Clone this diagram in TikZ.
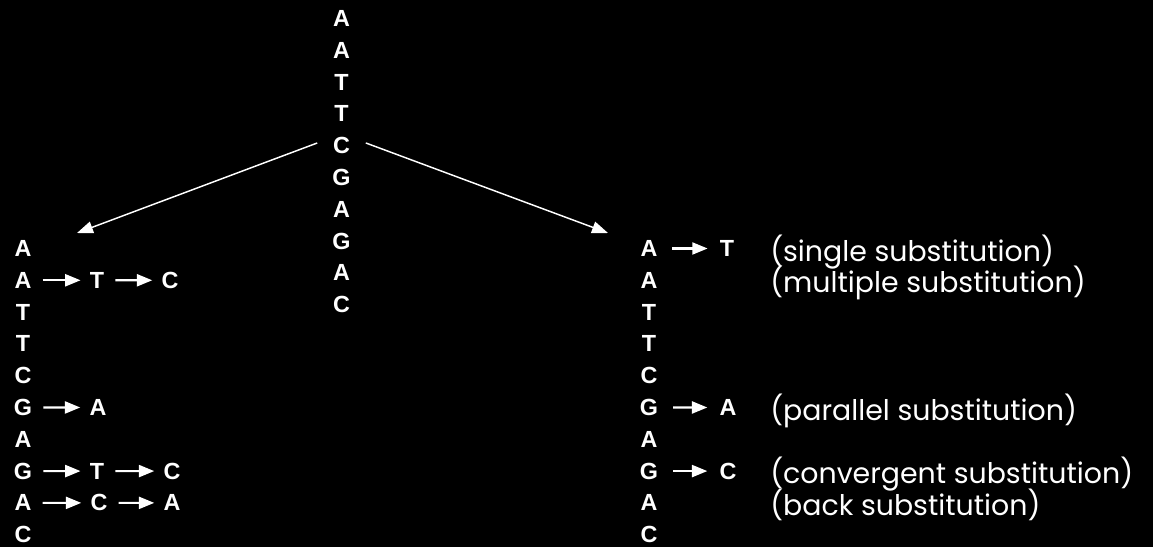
\documentclass[tikz,border=0pt]{standalone}
\usepackage{fontspec}
\setmainfont{Liberation Sans}
\newfontfamily\notefont{Poppins}
\usetikzlibrary{arrows.meta}

\tikzset{
  nt/.style={text=white, font=\bfseries\fontsize{17.5}{19}\selectfont, inner sep=0pt, anchor=base},
  note/.style={text=white, font=\notefont\fontsize{21.3}{24}\selectfont, inner sep=0pt, anchor=base west, yshift=-3.4pt},
  subst/.style={draw=white, line width=1.6pt, -{Triangle[length=11.5pt,width=9pt]}, shorten <=8.2pt, shorten >=6.8pt},
  branch/.style={draw=white, line width=1.1pt, -{Triangle[length=12pt,width=9pt]}, shorten <=12.5pt}
}

\begin{document}
\begin{tikzpicture}[x=0.75pt,y=-0.75pt]
  \fill[black] (0,0) rectangle (1153,547);

  % ancestral sequence
  \foreach \s [count=\i] in {A,A,T,T,C,G,A,G,A,C}
    \node[nt] (m\i) at (341.5,{26.5+31.8*(\i-1)}) {\s};

  % the two descendant sequences
  \foreach \s [count=\i] in {A,A,T,T,C,G,A,G,A,C} {
    \node[nt] (l\i) at (23,{256.5+31.8*(\i-1)}) {\s};
    \node[nt] (r\i) at (649,{256.5+31.8*(\i-1)}) {\s};
  }

  % forks
  \coordinate (lfork) at (77,233);
  \coordinate (rfork) at (608,233);
  \draw[branch] (m5.north west) -- (lfork);
  \draw[branch] (m5.north east) -- (rfork);

  % left lineage
  \node[nt] (l2a) at (97,0 |- l2.base) {T};
  \node[nt] (l2b) at (170,0 |- l2.base) {C};
  \node[nt] (l6a) at (98,0 |- l6.base) {A};
  \node[nt] (l8a) at (97,0 |- l8.base) {T};
  \node[nt] (l8b) at (172,0 |- l8.base) {C};
  \node[nt] (l9a) at (99,0 |- l9.base) {C};
  \node[nt] (l9b) at (172,0 |- l9.base) {A};
  \draw[subst] (l2) -- (l2a);
  \draw[subst] (l2a) -- (l2b);
  \draw[subst] (l6) -- (l6a);
  \draw[subst] (l8) -- (l8a);
  \draw[subst] (l8a) -- (l8b);
  \draw[subst] (l9) -- (l9a);
  \draw[subst] (l9a) -- (l9b);

  % right lineage
  \node[nt] (r1a) at (727,0 |- r1.base) {T};
  \node[nt] (r6a) at (728,0 |- r6.base) {A};
  \node[nt] (r8a) at (728,0 |- r8.base) {C};
  \draw[subst, shorten <=11pt, shorten >=9pt] (r1) -- (r1a);
  \draw[subst, shorten <=11pt, shorten >=9pt] (r6) -- (r6a);
  \draw[subst, shorten <=11pt, shorten >=9pt] (r8) -- (r8a);

  % kinds of substitution
  \node[note] (single) at (770,0 |- r1.base) {(single substitution)};
  \node[note] (multi) at (770,0 |- r2.base) {(multiple substitution)};
  \node[note] (para) at (770,0 |- r6.base) {(parallel substitution)};
  \node[note] (conv) at (770,0 |- r8.base) {(convergent substitution)};
  \node[note] (back) at (770,0 |- r9.base) {(back substitution)};
\end{tikzpicture}
\end{document}
